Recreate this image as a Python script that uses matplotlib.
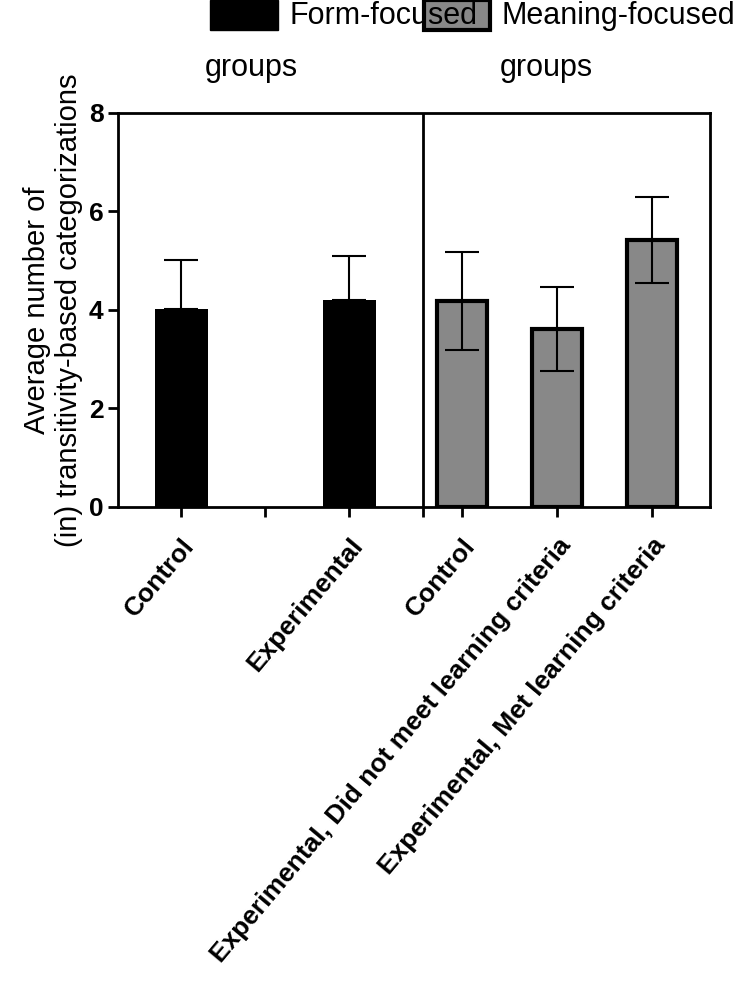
import matplotlib.pyplot as plt
from matplotlib.patches import Rectangle

plt.rcParams['font.family'] = ['Liberation Sans', 'DejaVu Sans']

labels = ["Control", "Experimental", "Control",
          "Experimental, Did not meet learning criteria",
          "Experimental, Met learning criteria"]
means = [4.02, 4.2, 4.18, 3.62, 5.42]
sds = [1.0, 0.9, 1.0, 0.85, 0.88]
groups = ["form", "form", "meaning", "meaning", "meaning"]
xpos = [181, 349, 462, 557, 652]

fig = plt.figure(figsize=(7.46, 9.93), dpi=100)
ax = fig.add_axes([118/746, 1-507/993, 592/746, 394/993])
ax.set_xlim(118, 710)
ax.set_ylim(0, 8)

for x, m, s, g in zip(xpos, means, sds, groups):
    if g == "form":
        ax.bar(x, m, width=53, color="black", zorder=2)
        ax.errorbar(x, m, yerr=[[0], [s]], color="black", capsize=12, lw=1.5, capthick=1.5, zorder=3)
    else:
        ax.bar(x, m, width=50, color="#888888", edgecolor="black", lw=3, zorder=2)
        ax.errorbar(x, m, yerr=s, color="black", capsize=12, lw=1.5, capthick=1.5, zorder=3)

ax.axvline(423, color="black", lw=2)
for side in ["top", "right", "left", "bottom"]:
    ax.spines[side].set_linewidth(2)
ax.set_yticks([0, 2, 4, 6, 8])
ax.set_xticks([181, 265, 349, 423, 462, 557, 652])
ax.set_xticklabels(["Control", "", "Experimental", "", "Control", labels[3], labels[4]],
                   rotation=50, ha="right", rotation_mode="anchor", fontweight="bold", fontsize=19)
ax.tick_params(width=2, length=7, labelsize=19)
ax.tick_params(axis="x", pad=12)
for t in ax.get_yticklabels():
    t.set_fontweight("bold")
ax.set_ylabel("Average number of\n(in) transitivity-based categorizations", fontsize=21)

fig.patches.append(Rectangle((210/746, 1-30/993), 68/746, 30/993, transform=fig.transFigure,
                             facecolor="black", edgecolor="black"))
fig.patches.append(Rectangle((424/746, 1-30/993), 66/746, 30/993, transform=fig.transFigure,
                             facecolor="#888888", edgecolor="black", lw=3))
fig.text(290/746, 1-16/993, "Form-focused", fontsize=22, va="center")
fig.text(205/746, 1-68/993, "groups", fontsize=22, va="center")
fig.text(502/746, 1-16/993, "Meaning-focused", fontsize=22, va="center")
fig.text(500/746, 1-68/993, "groups", fontsize=22, va="center")

fig.savefig("out.png")
